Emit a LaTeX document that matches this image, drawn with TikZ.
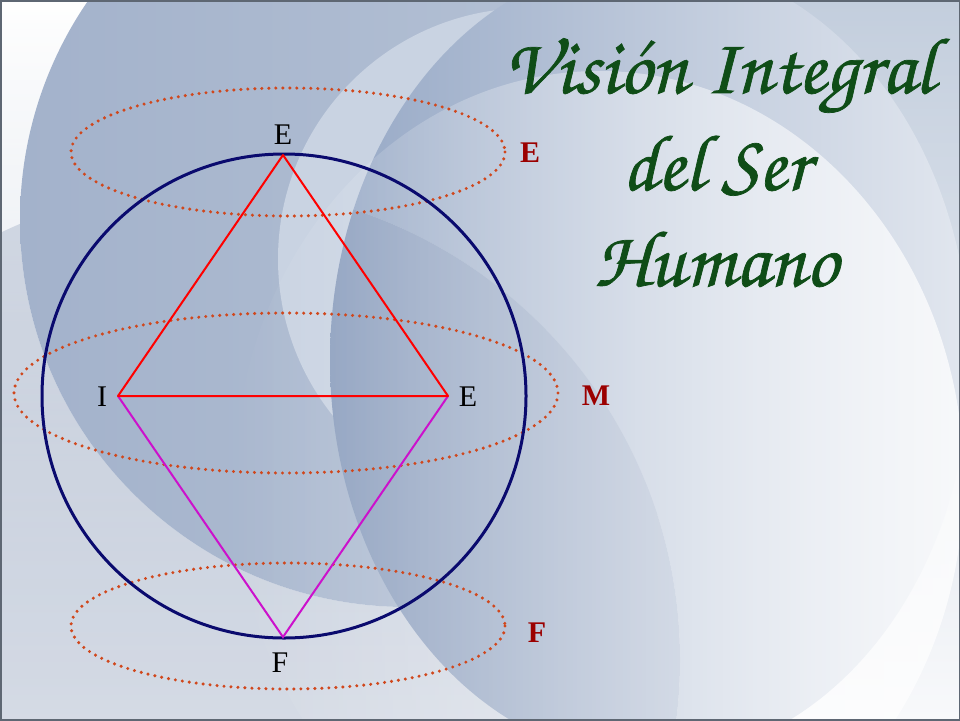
\documentclass[tikz,border=0pt]{standalone}
\usepackage[T1]{fontenc}
\usepackage{fontspec}
\setmainfont{Liberation Serif}
\usetikzlibrary{fadings}
\definecolor{bgtop}{HTML}{C3CEDD}
\definecolor{bgbot}{HTML}{F8F9FB}
\definecolor{bgB}{HTML}{5A7099}
\definecolor{bgLa}{HTML}{A3B2CB}
\definecolor{bgLb}{HTML}{BAC6D8}
\definecolor{bgC}{HTML}{C9D3E2}
\definecolor{bgRa}{HTML}{97A9C6}
\definecolor{bgRb}{HTML}{E2E7EF}
\definecolor{framegray}{HTML}{5E6773}
\definecolor{navyring}{HTML}{0A0A6E}
\definecolor{dotorange}{HTML}{D0471C}
\definecolor{labred}{HTML}{9B0000}
\definecolor{titlegreen}{HTML}{0F4D17}
\definecolor{lowmag}{HTML}{CC11CC}
\tikzfading[name=wfade, left color=transparent!100, middle color=transparent!88, right color=transparent!25]
\tikzfading[name=topfade, top color=transparent!0, bottom color=transparent!100]
\newcommand\chanceryfont{\fontencoding{T1}\fontfamily{pzc}\fontseries{mb}\fontshape{it}\fontsize{80}{86}\selectfont}
\newcommand\heavytext[1]{\special{pdf:literal direct 2 Tr 0.7 w}#1\special{pdf:literal direct 0 Tr}}
\tikzset{
  dotring/.style={draw=dotorange, line width=3.4pt, line cap=round, dash pattern=on 0pt off 7pt},
  bigring/.style={draw=navyring, line width=3pt},
  upline/.style={draw=red, line width=2pt},
  lowline/.style={draw=lowmag, line width=2pt},
  vlabel/.style={inner sep=0pt, font=\fontsize{30}{34}\selectfont, text=black},
  rlabel/.style={inner sep=0pt, font=\fontsize{30}{34}\selectfont\bfseries, text=labred},
  titleline/.style={inner sep=0pt, anchor=base, font=\chanceryfont, text=titlegreen}
}
\begin{document}
\begin{tikzpicture}[x=1pt,y=-1pt]
\useasboundingbox (0,0) rectangle (960,720);
% background
\shade[top color=bgtop, bottom color=bgbot] (0,0) rectangle (960,720);
\begin{scope}
  \clip (0,0) rectangle (960,720);
  \fill[white, path fading=topfade] (0,0) rectangle (430,720);
  % darker disk, visible only outside the left disk
  \begin{scope}
    \clip (206,660) circle (474);
    \fill[bgB, opacity=0.22, even odd rule] (-10,-10) rectangle (970,730) (407,220) circle (387);
  \end{scope}
  \shade[left color=bgLa, right color=bgLb] (407,220) circle (387);
  \fill[bgC] (529,259) circle (251);
  \begin{scope}
    \clip (-10,-10) rectangle (970,730) (206,660) circle (474);
    \shade[left color=bgRa, right color=bgRb] (650,360) ellipse (320 and 400);
  \end{scope}
  \begin{scope}
    \clip (206,660) circle (474);
    \shade[left color=bgRa!82!bgB, right color=bgRb!82!bgB] (650,360) ellipse (320 and 400);
  \end{scope}
  \fill[white, path fading=wfade] (600,480) ellipse (365 and 410);
\end{scope}
\draw[framegray, line width=3pt] (0,0) rectangle (960,720);

% dotted rings
\draw[dotring] (288,152) ellipse (217 and 64);
\draw[dotring] (286,393) ellipse (272 and 80);
\draw[dotring] (288,626) ellipse (217 and 63);

% circle
\draw[bigring] (284,396) circle (242);

% vertices
\coordinate (T) at (283,155);
\coordinate (I) at (118,396);
\coordinate (Er) at (448,396);
\coordinate (F) at (283,637);

\draw[lowline] (I) -- (F) -- (Er);
\draw[upline, line join=round] (I) -- (T) -- (Er) -- cycle;

% labels
\node[vlabel] (lt) at (283,135) {E};
\node[vlabel] (li) at (102,397) {I};
\node[vlabel] (le) at (468,397) {E};
\node[vlabel] (lf) at (280,663) {F};
\node[rlabel] (re) at (530,153) {E};
\node[rlabel] (rm) at (596,396) {M};
\node[rlabel] (rf) at (537,633) {F};

% title
\node[titleline] (t1) at (719,93) {\heavytext{Visi\'{o}n Integral}};
\node[titleline] (t2) at (716,190) {\heavytext{del Ser}};
\node[titleline] (t3) at (716,286) {\heavytext{Humano}};
\end{tikzpicture}
\end{document}
